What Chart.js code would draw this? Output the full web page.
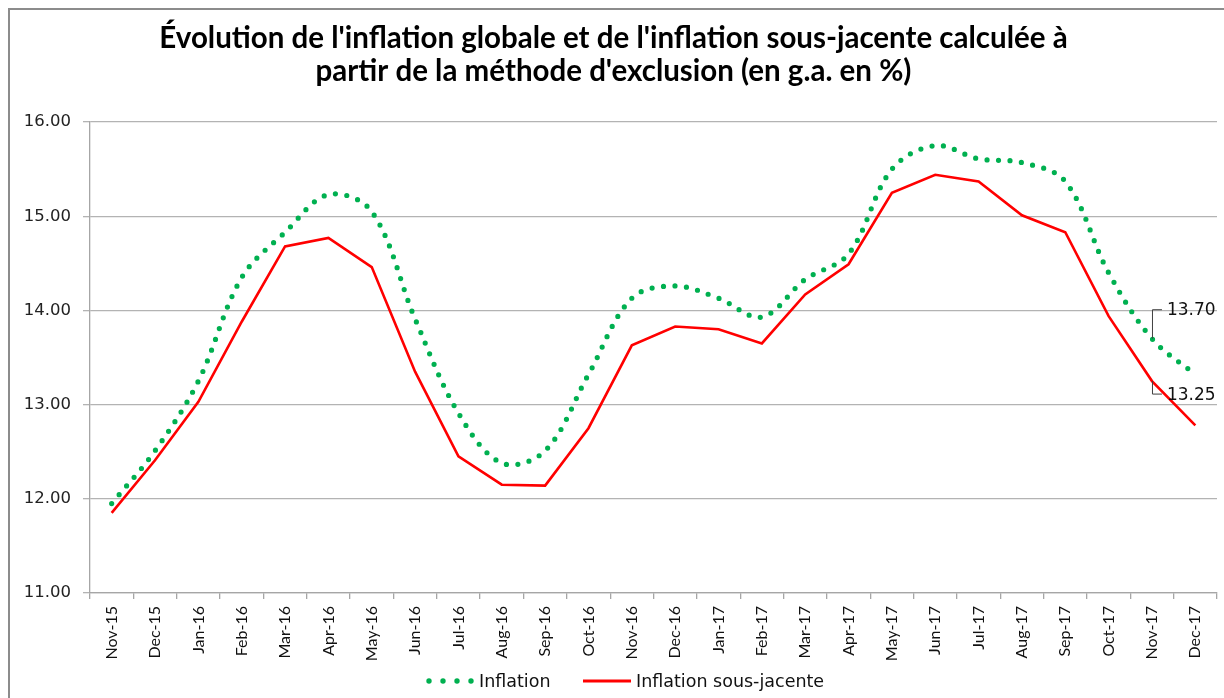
<!DOCTYPE html>
<html>
<head>
<meta charset="utf-8">
<title>Inflation globale et sous-jacente</title>
<script src="https://cdn.jsdelivr.net/npm/chart.js@4.4.1/dist/chart.umd.min.js"></script>
<style>
  html, body { margin: 0; padding: 0; background: #fff; }
  #wrap { position: absolute; left: 0; top: 0; width: 1224px; height: 698px; overflow: hidden; }
  #cadre { position: absolute; left: 8px; top: 8px; width: 1230px; height: 700px;
           border-left: 2px solid #8c8c8c; border-top: 2px solid #8c8c8c; }
  canvas { position: absolute; left: 0; top: 0; }
</style>
</head>
<body>
<div id="wrap">
  <div id="cadre"></div>
  <canvas id="graphe" width="1224" height="698"></canvas>
</div>
<script>
// Données (g.a. en %)
const mois = ['Nov-15','Dec-15','Jan-16','Feb-16','Mar-16','Apr-16','May-16','Jun-16','Jul-16',
  'Aug-16','Sep-16','Oct-16','Nov-16','Dec-16','Jan-17','Feb-17','Mar-17','Apr-17','May-17',
  'Jun-17','Jul-17','Aug-17','Sep-17','Oct-17','Nov-17','Dec-17'];

const inflation = [11.95, 12.51, 13.25, 14.35, 14.83, 15.23, 15.05, 13.91, 12.91, 12.38, 12.51,
  13.32, 14.13, 14.26, 14.13, 13.93, 14.33, 14.60, 15.50, 15.75, 15.61, 15.57, 15.37,
  14.40, 13.70, 13.32];

const sousJacente = [11.85, 12.41, 13.03, 13.88, 14.68, 14.77, 14.46, 13.35, 12.45, 12.15, 12.14,
  12.75, 13.63, 13.83, 13.80, 13.65, 14.17, 14.49, 15.25, 15.44, 15.37, 15.01, 14.83,
  13.94, 13.25, 12.78];

const yMin = 11, yMax = 16, yPas = 1;
const moisEtiquete = 'Nov-17'; // point qui porte les étiquettes de valeur

const titre = ["Évolution de l'inflation globale et de l'inflation sous-jacente calculée à",
  "partir de la méthode d'exclusion (en g.a. en %)"];

const VERT = '#00b050';
const ROUGE = '#ff0000';
const POLICE_CHIFFRES = 'DejaVu Sans, Verdana, sans-serif';
const POLICE_TITRE = "Lato, 'Open Sans', sans-serif";

// étiquettes 13.70 / 13.25 avec trait de rappel
const etiquettes = {
  id: 'etiquettes',
  afterDatasetsDraw(chart) {
    const ctx = chart.ctx;
    const i = mois.indexOf(moisEtiquete);
    ctx.save();
    ctx.font = '17px ' + POLICE_CHIFFRES;
    ctx.fillStyle = '#111';
    ctx.strokeStyle = '#404040';
    ctx.lineWidth = 1;
    ctx.textBaseline = 'middle';
    chart.data.datasets.forEach((ds, d) => {
      const pt = chart.getDatasetMeta(d).data[i];
      if (!pt) return;
      const dy = d === 0 ? -29 : 13;
      ctx.beginPath();
      ctx.moveTo(pt.x + 0.5, pt.y);
      ctx.lineTo(pt.x + 0.5, pt.y + dy);
      ctx.lineTo(pt.x + 10, pt.y + dy);
      ctx.stroke();
      ctx.fillText(ds.data[i].toFixed(2), pt.x + 15, pt.y + dy + 1);
    });
    ctx.restore();
  }
};

// légende dessinée à la main (points ronds + trait)
const legende = {
  id: 'legende',
  afterDraw(chart) {
    const ctx = chart.ctx;
    const y = 681;
    ctx.save();
    ctx.fillStyle = VERT;
    [429, 443, 457, 471].forEach(x => {
      ctx.beginPath();
      ctx.arc(x, y, 2.7, 0, Math.PI * 2);
      ctx.fill();
    });
    ctx.strokeStyle = ROUGE;
    ctx.lineWidth = 3;
    ctx.beginPath();
    ctx.moveTo(583, y);
    ctx.lineTo(631, y);
    ctx.stroke();
    ctx.fillStyle = '#111';
    ctx.font = '17.5px ' + POLICE_CHIFFRES;
    ctx.textBaseline = 'middle';
    ctx.fillText('Inflation', 479, y + 1);
    ctx.fillText('Inflation sous-jacente', 636, y + 1);
    ctx.restore();
  }
};

new Chart(document.getElementById('graphe'), {
  type: 'line',
  data: {
    labels: mois,
    datasets: [
      {
        label: 'Inflation',
        data: inflation,
        borderColor: VERT,
        borderWidth: 5.2,
        borderDash: [0, 11.5],
        borderCapStyle: 'round',
        tension: 0.35,
        pointRadius: 0,
        fill: false
      },
      {
        label: 'Inflation sous-jacente',
        data: sousJacente,
        borderColor: ROUGE,
        borderWidth: 2.6,
        tension: 0,
        pointRadius: 0,
        fill: false
      }
    ]
  },
  options: {
    responsive: false,
    animation: false,
    layout: { padding: { left: 10, right: 7, top: 0, bottom: 28 } },
    plugins: {
      legend: { display: false },
      tooltip: { enabled: false },
      title: {
        display: true,
        text: titre,
        color: '#000',
        font: { family: POLICE_TITRE, size: 29.5, weight: 'bold', lineHeight: 1.12 },
        padding: { top: 22, bottom: 34 }
      }
    },
    scales: {
      x: {
        offset: true,
        grid: { offset: true, drawOnChartArea: false, drawTicks: true, tickLength: 6, color: '#a6a6a6', lineWidth: 1.3 },
        border: { color: '#a6a6a6', width: 1.3 },
        ticks: { maxRotation: 90, minRotation: 90, autoSkip: false, padding: 7, color: '#111',
                 font: { family: POLICE_TITRE, size: 16 } },
        afterFit(s) { s.height = 77; }
      },
      y: {
        min: yMin,
        max: yMax,
        grid: { color: '#b3b3b3', lineWidth: 1.3, tickLength: 7 },
        border: { color: '#a6a6a6', width: 1.3 },
        ticks: { stepSize: yPas, padding: 12, color: '#222',
                 font: { family: POLICE_CHIFFRES, size: 16.5 },
                 callback: v => Number(v).toFixed(2) },
        afterFit(s) { s.width = 80; }
      }
    }
  },
  plugins: [etiquettes, legende]
});
</script>
</body>
</html>
